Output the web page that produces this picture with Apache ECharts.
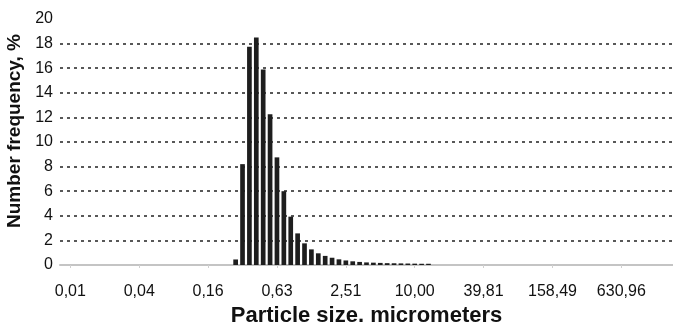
<!DOCTYPE html>
<html>
<head>
<meta charset="utf-8">
<script src="https://cdn.jsdelivr.net/npm/echarts@6/dist/echarts.min.js"></script>
<style>
html,body{margin:0;padding:0;background:#fff;}
#chart{width:673px;height:325px;}
</style>
</head>
<body>
<div id="chart"></div>
<script>
// Particle size classes (micrometers), log-spaced classes
var sizes = [
  0.00871, 0.01, 0.01148, 0.01318, 0.01514, 0.01738, 0.01995, 0.02291, 0.0263, 0.0302,
  0.03467, 0.03981, 0.04571, 0.05248, 0.06026, 0.06918, 0.07943, 0.0912, 0.1047, 0.1202,
  0.138, 0.1585, 0.182, 0.2089, 0.2399, 0.2754, 0.3162, 0.3631, 0.4169, 0.4786,
  0.5495, 0.631, 0.7244, 0.8318, 0.955, 1.096, 1.259, 1.445, 1.66, 1.905,
  2.188, 2.512, 2.884, 3.311, 3.802, 4.365, 5.012, 5.754, 6.607, 7.586,
  8.71, 10.0, 11.48, 13.18, 15.14, 17.38, 19.95, 22.91, 26.3, 30.2,
  34.67, 39.811, 45.71, 52.48, 60.26, 69.18, 79.43, 91.2, 104.7, 120.2,
  138.0, 158.489, 182.0, 208.9, 239.9, 275.4, 316.2, 363.1, 416.9, 478.6,
  549.5, 630.957, 724.4, 831.8, 955.0, 1096, 1259, 1445, 1660
];
// Number frequency, %
var frequency = [
  0, 0, 0, 0, 0, 0, 0, 0, 0, 0,
  0, 0, 0, 0, 0, 0, 0, 0, 0, 0,
  0, 0, 0, 0, 0, 0.45, 8.2, 17.75, 18.5, 15.9,
  12.25, 8.75, 6.0, 3.93, 2.57, 1.76, 1.27, 0.95, 0.74, 0.59,
  0.46, 0.37, 0.3, 0.25, 0.21, 0.19, 0.17, 0.15, 0.14, 0.13,
  0.12, 0.11, 0.1, 0.1, 0, 0, 0, 0, 0, 0,
  0, 0, 0, 0, 0, 0, 0, 0, 0, 0,
  0, 0, 0, 0, 0, 0, 0, 0, 0, 0,
  0, 0, 0, 0, 0, 0, 0, 0, 0
];
// indices of the size classes that carry a tick label (0,01 ; 0,04 ; ... ; 630,96)
var labelIndices = [1, 11, 21, 31, 41, 51, 61, 71, 81];
var yTicks = [0, 2, 4, 6, 8, 10, 12, 14, 16, 18, 20];

var chart = echarts.init(document.getElementById('chart'), null, {renderer: 'canvas'});
var fontFam = 'Liberation Sans, Arial, sans-serif';
function showIdx(i) { return labelIndices.indexOf(i) >= 0; }

chart.setOption({
  animation: false,
  backgroundColor: '#ffffff',
  grid: {left: 60, right: 0, top: 19, bottom: 60, containLabel: false, outerBoundsMode: 'none'},
  xAxis: {
    type: 'category',
    data: sizes.map(String),
    boundaryGap: true,
    axisLine: {show: true, lineStyle: {color: '#c4c4c4', width: 2}},
    axisTick: {show: true, interval: function (i) { return showIdx(i); }, alignWithLabel: true, length: 3, lineStyle: {color: '#d0d0d0'}},
    axisLabel: {
      interval: function (i) { return showIdx(i); },
      formatter: function (v) { return parseFloat(v).toFixed(2).replace('.', ','); },
      color: '#111', fontFamily: fontFam, fontSize: 16, margin: 19
    },
    splitLine: {show: false},
    name: 'Particle size. micrometers',
    nameLocation: 'middle',
    nameGap: 36,
    nameTextStyle: {color: '#111', fontFamily: fontFam, fontSize: 22, fontWeight: 'bold'}
  },
  yAxis: {
    type: 'value',
    min: yTicks[0], max: yTicks[yTicks.length - 1], interval: 2,
    axisLine: {show: false},
    axisTick: {show: false},
    axisLabel: {color: '#111', fontFamily: fontFam, fontSize: 16, margin: 7},
    splitLine: {show: true, showMinLine: false, showMaxLine: false,
      lineStyle: {color: '#222', width: 1.5, type: [3, 4]}}
  },
  graphic: [{
    type: 'text',
    x: 15, y: 131,
    rotation: Math.PI / 2,
    style: {text: 'Number frequency, %', fill: '#111', font: 'bold 19px ' + fontFam,
      textAlign: 'center', textVerticalAlign: 'middle'}
  }],
  series: [{
    type: 'bar',
    data: frequency,
    barCategoryGap: '32%',
    itemStyle: {color: '#1e1e1e'}
  }]
});
</script>
</body>
</html>
